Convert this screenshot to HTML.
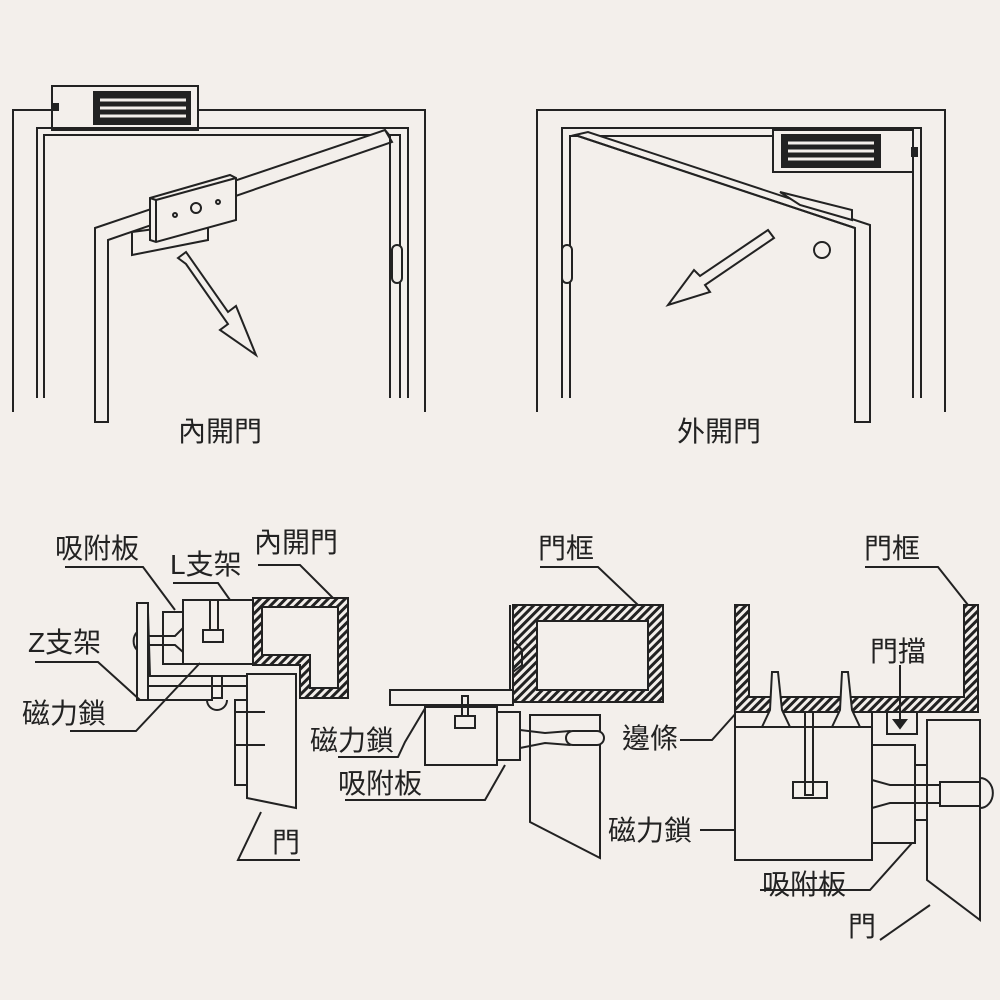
<!DOCTYPE html>
<html><head><meta charset="utf-8"><style>
html,body{margin:0;padding:0;background:#f3efeb;}
svg{display:block}
text{font-family:"Liberation Sans","Noto Sans CJK TC",sans-serif;fill:#222;}
</style></head><body>
<svg width="1000" height="1000" viewBox="0 0 1000 1000" xmlns="http://www.w3.org/2000/svg">
<defs>
<pattern id="h" width="6" height="6" patternUnits="userSpaceOnUse" patternTransform="rotate(45)">
<rect width="6" height="6" fill="#f3efeb"/><rect width="3" height="6" fill="#222"/></pattern>
</defs>
<g fill="none" stroke="#222" stroke-width="2">
<!-- Top left -->
<polyline points="13,412 13,110 52,110"/>
<polyline points="198,110 425,110 425,412"/>
<rect x="52" y="86" width="146" height="44" fill="#f3efeb"/>
<rect x="94" y="92" width="96" height="32" fill="#222"/>
<g stroke="#f3efeb" stroke-width="3"><line x1="100" y1="100" x2="186" y2="100"/><line x1="100" y1="108" x2="186" y2="108"/><line x1="100" y1="116" x2="186" y2="116"/></g>
<rect x="53" y="104" width="5" height="6" fill="#222"/>
<polyline points="37,398 37,128 408,128 408,398"/>
<polyline points="44,398 44,135 400,135 400,398"/>
<polygon points="95,228 385,130 392,142 108,240 108,422 95,422" fill="#f3efeb"/>
<polyline points="385,130 390,136 390,398"/>
<rect x="392" y="245" width="10" height="38" rx="5" fill="#f3efeb"/>
<polygon points="132,232 208,222 208,240 132,255" fill="#f3efeb"/>
<polygon points="150,198 230,175 236,178 236,220 156,242 150,240" fill="#f3efeb"/>
<line x1="150" y1="198" x2="156" y2="200"/><line x1="156" y1="200" x2="236" y2="178"/><line x1="156" y1="200" x2="156" y2="242"/>
<circle cx="196" cy="208" r="5"/><circle cx="175" cy="215" r="2"/><circle cx="218" cy="202" r="2"/>
<polygon points="178,258 186,252 228,312 236,306 256,355 220,330 228,324 186,264" fill="#f3efeb"/>
<!-- Top right -->
<polyline points="537,412 537,110 945,110 945,412"/>
<polyline points="562,398 562,128 921,128 921,398"/>
<polyline points="570,398 570,136 913,136 913,398"/>
<rect x="773" y="130" width="140" height="42" fill="#f3efeb"/>
<rect x="782" y="135" width="98" height="32" fill="#222"/>
<g stroke="#f3efeb" stroke-width="3"><line x1="788" y1="143" x2="874" y2="143"/><line x1="788" y1="151" x2="874" y2="151"/><line x1="788" y1="159" x2="874" y2="159"/></g>
<rect x="912" y="148" width="5" height="8" fill="#222"/>
<polygon points="575,135 588,132 870,225 870,422 855,422 855,228" fill="#f3efeb"/>
<line x1="575" y1="135" x2="855" y2="228"/>
<polygon points="780,192 852,210 852,220 800,205" fill="#f3efeb"/>
<circle cx="822" cy="250" r="8"/>
<rect x="562" y="245" width="10" height="38" rx="5" fill="#f3efeb"/>
<polygon points="768,230 774,238 705,285 710,292 668,305 694,270 700,276" fill="#f3efeb"/>
</g>
<g font-size="28">
<text x="178" y="441">內開門</text>
<text x="677" y="441">外開門</text>
</g>
<!-- Bottom left -->
<g stroke="#222" stroke-width="2">
<polygon points="253,598 348,598 348,698 300,698 300,665 253,665" fill="url(#h)"/>
<polygon points="262,607 338,607 338,688 310,688 310,655 262,655" fill="#f3efeb"/>
</g>
<g fill="none" stroke="#222" stroke-width="2">
<rect x="183" y="600" width="70" height="64" fill="#f3efeb"/>
<rect x="163" y="612" width="20" height="52"/>
<rect x="210" y="600" width="8" height="30"/><rect x="203" y="630" width="20" height="12"/>
<rect x="137" y="603" width="11" height="97"/>
<polyline points="148,612 150,676 247,676"/>
<polyline points="148,686 247,686"/><polyline points="148,700 213,700"/>
<path d="M137,632 A10,12 0 0 0 137,650"/>
<polyline points="148,636 175,636 183,628"/><polyline points="148,645 175,645 183,652"/>
<rect x="212" y="676" width="10" height="22"/>
<path d="M207,700 A8,8 0 0 0 227,700"/>
<rect x="235" y="700" width="12" height="85"/>
<polygon points="247,674 296,674 296,808 247,798" fill="#f3efeb"/>
<polyline points="235,712 265,712"/><polyline points="235,745 265,745"/>
<polyline points="65,567 143,567 175,610"/>
<polyline points="173,583 218,583 230,600"/>
<polyline points="258,565 300,565 333,598"/>
<polyline points="35,662 98,662 140,700"/>
<polyline points="70,731 136,731 200,663"/>
<polyline points="261,812 238,860 300,860"/>
<polyline points="338,757 398,757 405,742 430,700"/>
<polyline points="345,800 485,800 505,765"/>
</g>
<!-- Bottom middle -->
<g stroke="#222" stroke-width="2">
<rect x="513" y="605" width="150" height="97" fill="url(#h)"/>
<rect x="537" y="621" width="111" height="69" fill="#f3efeb"/>
</g>
<g fill="none" stroke="#222" stroke-width="2">
<polyline points="510,605 510,690"/><polyline points="513,640 522,650 522,665 513,672"/>
<rect x="390" y="690" width="123" height="15" fill="#f3efeb"/>
<rect x="425" y="707" width="72" height="58" fill="#f3efeb"/>
<rect x="462" y="696" width="6" height="20"/><rect x="455" y="716" width="20" height="12"/>
<rect x="497" y="712" width="23" height="48"/>
<polygon points="530,715 600,715 600,858 530,822" fill="#f3efeb"/>
<path d="M520,730 L545,733 L570,731 A8,8 0 0 1 570,745 L545,743 L520,748"/>
<rect x="566" y="731" width="38" height="14" rx="7" fill="#f3efeb"/>
<polyline points="540,567 598,567 638,605"/>
<polyline points="680,740 712,740 737,712"/>
<polyline points="700,830 735,830"/>
<polyline points="760,890 870,890 912,843"/>
<polyline points="880,940 930,905"/>
</g>
<!-- Bottom right -->
<g stroke="#222" stroke-width="2">
<polygon points="735,605 749,605 749,697 964,697 964,605 978,605 978,712 735,712" fill="url(#h)"/>
</g>
<g fill="none" stroke="#222" stroke-width="2">
<polyline points="865,567 938,567 968,605"/>
<rect x="735" y="712" width="137" height="148" fill="#f3efeb"/>
<line x1="735" y1="727" x2="872" y2="727"/>
<path d="M772,672 L778,672 L782,710 L790,727 L762,727 L770,710 Z" fill="#f3efeb"/>
<path d="M842,672 L848,672 L852,710 L860,727 L832,727 L840,710 Z" fill="#f3efeb"/>
<rect x="805" y="712" width="8" height="83"/><rect x="793" y="782" width="34" height="16"/>
<rect x="872" y="745" width="43" height="98"/>
<rect x="915" y="765" width="12" height="55"/>
<rect x="887" y="712" width="30" height="22"/>
<line x1="900" y1="665" x2="900" y2="728"/><polygon points="894,720 906,720 900,728" fill="#222"/>
<polygon points="927,720 980,720 980,920 927,880" fill="#f3efeb"/>
<path d="M872,780 L890,785 L940,785 L940,803 L890,803 L872,808"/>
<rect x="940" y="782" width="40" height="24"/>
<path d="M980,778 A12,14 0 0 1 980,808"/>
</g>
<g font-size="28">
<text x="55" y="558">吸附板</text>
<text x="170" y="574">L支架</text>
<text x="254" y="552">內開門</text>
<text x="28" y="652">Z支架</text>
<text x="22" y="723">磁力鎖</text>
<text x="272" y="852">門</text>
<text x="538" y="558">門框</text>
<text x="310" y="750">磁力鎖</text>
<text x="338" y="793">吸附板</text>
<text x="622" y="748">邊條</text>
<text x="608" y="840">磁力鎖</text>
<text x="864" y="558">門框</text>
<text x="870" y="661">門擋</text>
<text x="762" y="894">吸附板</text>
<text x="848" y="936">門</text>
</g>
</svg>
</body></html>
